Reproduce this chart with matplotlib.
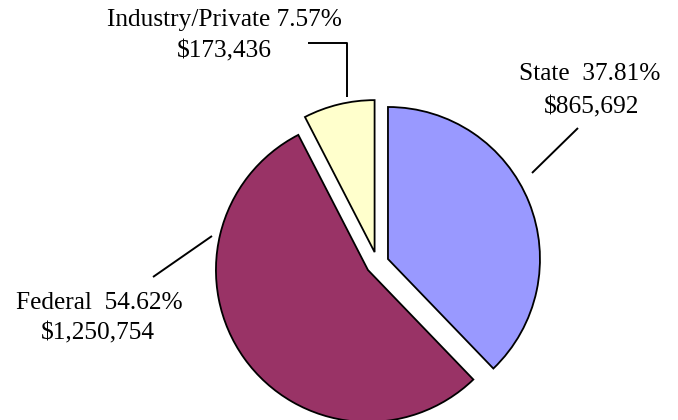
import matplotlib
matplotlib.use("Agg")
import matplotlib.pyplot as plt

categories = ["State", "Federal", "Industry/Private"]
amounts = [865692, 1250754, 173436]
percent_labels = ["37.81%", "54.62%", "7.57%"]
amount_labels = ["$865,692", "$1,250,754", "$173,436"]
colors = ["#9999FF", "#993366", "#FFFFCC"]

W, H = 678, 420
fig = plt.figure(figsize=(W / 100, H / 100), dpi=100)
ax = fig.add_axes([0, 0, 1, 1])
ax.set_xlim(0, W)
ax.set_ylim(0, H)

center_px = (377.3, 263.3)
radius = 152
ax.pie(amounts, colors=colors, startangle=90, counterclock=False,
       center=(center_px[0], H - center_px[1]), radius=radius,
       explode=[11.5] * 3, frame=True,
       wedgeprops=dict(edgecolor="black", linewidth=1.3))
ax.axis("off")
ax.set_xlim(0, W)
ax.set_ylim(0, H)

font = dict(family=["Liberation Serif", "DejaVu Serif"], fontsize=18.3, color="black")

def txt(x, y, s):
    ax.text(x, H - y, s, ha="center", va="center", **font)

def line(xs, ys):
    ax.plot(xs, [H - y for y in ys], color="black", linewidth=1.4, solid_capstyle="butt")

# Industry/Private label
txt(224, 20, f"{categories[2]} {percent_labels[2]}")
txt(224, 51, amount_labels[2])
line([308, 347, 347], [43, 43, 97])

# State label
txt(590, 74, f"{categories[0]}  {percent_labels[0]}")
txt(592, 107, amount_labels[0])
line([532, 578], [173, 128])

# Federal label
txt(99, 303, f"{categories[1]}  {percent_labels[1]}")
txt(98, 333, amount_labels[1])
line([153, 212], [277, 236])

fig.savefig("out.png", dpi=100)
